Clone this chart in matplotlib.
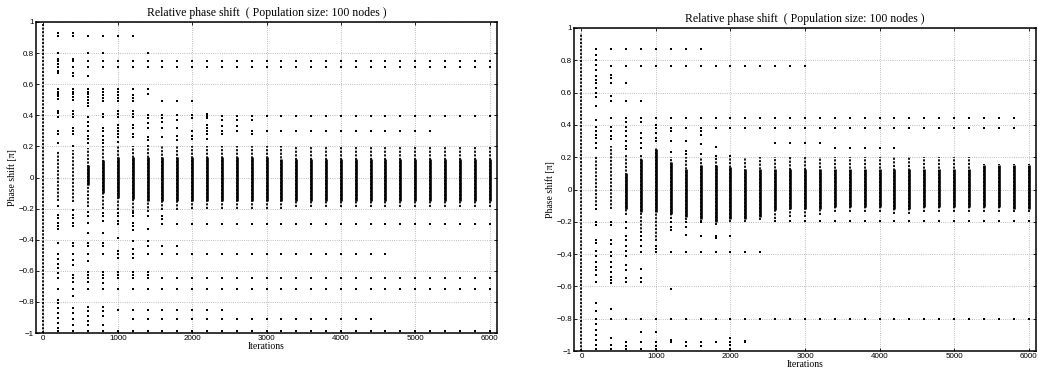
import numpy as np
import matplotlib
matplotlib.use("Agg")
import matplotlib.pyplot as plt

nan = np.nan

# --------------------------------------------------------------------------- #
# data (phase shift in units of pi)
# --------------------------------------------------------------------------- #
ITERATIONS = list(range(0, 6001, 200))          # 31 snapshot columns

X_TICKS = [0, 1000, 2000, 3000, 4000, 5000, 6000]
X_TICK_LABELS = ["0", "1000", "2000", "3000", "4000", "5000", "6000"]
Y_TICKS = [-1, -0.8, -0.6, -0.4, -0.2, 0, 0.2, 0.4, 0.6, 0.8, 1]
Y_TICK_LABELS = ["\u22121", "\u22120.8", "\u22120.6", "\u22120.4", "\u22120.2", "0",
                 "0.2", "0.4", "0.6", "0.8", "1"]

TITLE = "Relative phase shift  ( Population size: 100 nodes )"

# --- left panel ------------------------------------------------------------ #
# dense (solid-looking) part of every column
LEFT_CORE_HI = [nan, nan, nan, 0.08, 0.11, 0.13, 0.13, 0.13, 0.13, 0.13, 0.13,
                0.13, 0.13, 0.13, 0.13, 0.13, 0.12, 0.12, 0.12, 0.12, 0.12,
                0.12, 0.12, 0.12, 0.12, 0.12, 0.12, 0.12, 0.12, 0.12, 0.12]
LEFT_CORE_LO = [nan, nan, nan, -0.05, -0.10, -0.13, -0.14, -0.15, -0.15, -0.15,
                -0.15, -0.15, -0.15, -0.15, -0.15, -0.15, -0.15, -0.15, -0.15,
                -0.15, -0.15, -0.15, -0.15, -0.15, -0.15, -0.15, -0.15, -0.15,
                -0.15, -0.15, -0.15]
# dotted stack of nodes around the core
LEFT_TAIL_HI = [0.99, 0.17, 0.18, 0.19, 0.20, 0.20, 0.20, 0.21, 0.20, 0.20,
                0.20, 0.20, 0.20, 0.20, 0.20, 0.20, 0.20, 0.20, 0.20, 0.20,
                0.20, 0.20, 0.20, 0.20, 0.20, 0.20, 0.20, 0.20, 0.20, 0.20, 0.20]
LEFT_TAIL_LO = [-1.0, -0.15, -0.16, -0.19, -0.20, -0.21, -0.22, -0.22, -0.21,
                -0.21, -0.20, -0.20, -0.20, -0.20, -0.20, -0.20, -0.20, -0.19,
                -0.19, -0.19, -0.19, -0.19, -0.19, -0.19, -0.19, -0.19, -0.19,
                -0.19, -0.19, -0.19, -0.19]
# nodes that sit on the same phase over many snapshots
LEFT_ROW_VALUE = [0.747, 0.711, 0.907, 0.49, 0.394, 0.30, -0.296, -0.44,
                  -0.495, -0.645, -0.72, -0.853, -0.913, -0.99]
LEFT_ROW_FROM = [200, 200, 600, 1600, 2200, 2200, 1600, 1400,
                 800, 600, 200, 1200, 1200, 200]
LEFT_ROW_TO = [6000, 6000, 1200, 2000, 6000, 5200, 6000, 1800,
               4600, 6000, 6000, 2400, 4400, 6000]
# remaining single nodes of the early snapshots
LEFT_EXTRA = {
    200: [0.932, 0.911, 0.80, 0.761, 0.733, 0.686, 0.675, 0.568, 0.553, 0.54,
          0.525, 0.504, 0.429, 0.412, 0.386, 0.30, 0.279, 0.225, -0.184,
          -0.238, -0.259, -0.292, -0.313, -0.334, -0.42, -0.495, -0.527,
          -0.559, -0.58, -0.613, -0.645, -0.785, -0.81, -0.838, -0.87,
          -0.902, -0.935, -0.967],
    400: [0.932, 0.911, 0.761, 0.675, 0.65, 0.568, 0.55, 0.535, 0.52, 0.50,
          0.43, 0.41, 0.39, 0.32, 0.30, 0.28, 0.205, -0.21, -0.24, -0.26,
          -0.29, -0.31, -0.42, -0.44, -0.495, -0.53, -0.56, -0.625, -0.645,
          -0.67, -0.76, -0.84, -0.87, -0.91, -0.95],
    600: [0.907, 0.80, 0.65, 0.568, 0.55, 0.535, 0.52, 0.50, 0.48, 0.46,
          0.386, 0.36, 0.33, 0.30, 0.27, 0.25, 0.22, -0.22, -0.25, -0.29,
          -0.355, -0.42, -0.44, -0.495, -0.54, -0.61, -0.63, -0.67, -0.83,
          -0.86, -0.89, -0.92, -0.95],
    800: [0.907, 0.80, 0.568, 0.55, 0.53, 0.51, 0.49, 0.41, 0.39, 0.32, 0.30,
          0.27, 0.24, 0.22, -0.23, -0.25, -0.28, -0.355, -0.42, -0.44, -0.605,
          -0.625, -0.68, -0.83, -0.86, -0.89, -0.95],
    1000: [0.907, 0.568, 0.55, 0.53, 0.51, 0.49, 0.43, 0.41, 0.39, 0.34, 0.32,
           0.30, 0.28, 0.26, 0.23, -0.23, -0.25, -0.28, -0.30, -0.39, -0.47,
           -0.52, -0.605, -0.625, -0.85],
    1200: [0.568, 0.53, 0.51, 0.49, 0.43, 0.41, 0.39, 0.34, 0.32, 0.28, 0.26,
           -0.23, -0.25, -0.29, -0.31, -0.34, -0.41, -0.46, -0.52, -0.61,
           -0.625],
    1400: [0.80, 0.568, 0.54, 0.40, 0.38, 0.35, 0.32, 0.26, 0.24, -0.25,
           -0.33, -0.41, -0.61, -0.63],
    1600: [0.40, 0.38, 0.36, 0.32, 0.26, -0.25, -0.27],
    1800: [0.40, 0.37, 0.32, 0.27, 0.24],
    2000: [0.40, 0.38, 0.30, 0.27, 0.25],
    2200: [0.41, 0.38, 0.34, 0.32, 0.28, 0.25],
    2400: [0.37, 0.33, 0.28],
    2600: [0.37, 0.33],
    2800: [0.37, 0.28],
}

# --- right panel ----------------------------------------------------------- #
RIGHT_CORE_HI = [nan, nan, nan, 0.10, 0.19, 0.25, 0.17, 0.13, 0.15, 0.15, 0.14,
                 0.13, 0.13, 0.13, 0.13, 0.13, 0.13, 0.13, 0.13, 0.13, 0.13,
                 0.13, 0.13, 0.13, 0.13, 0.13, 0.13, 0.15, 0.15, 0.15, 0.15]
RIGHT_CORE_LO = [nan, nan, nan, -0.12, -0.14, -0.14, -0.15, -0.17, -0.18,
                 -0.20, -0.18, -0.18, -0.17, -0.13, -0.12, -0.12, -0.12, -0.11,
                 -0.11, -0.11, -0.11, -0.12, -0.12, -0.11, -0.11, -0.11, -0.11,
                 -0.11, -0.11, -0.12, -0.12]
RIGHT_TAIL_HI = [0.97, 0.21, 0.27, 0.22, 0.22, 0.26, 0.20, 0.20, 0.20, 0.20,
                 0.20, 0.20, 0.20, 0.20, 0.20, 0.20, 0.20, 0.20, 0.20, 0.20,
                 0.20, 0.20, 0.20, 0.20, 0.20, 0.20, 0.20, 0.16, 0.16, 0.16, 0.16]
RIGHT_TAIL_LO = [-1.0, -0.10, -0.12, -0.16, -0.27, -0.32, -0.18, -0.19, -0.20,
                 -0.22, -0.20, -0.20, -0.19, -0.18, -0.17, -0.17, -0.16, -0.14,
                 -0.14, -0.14, -0.14, -0.15, -0.15, -0.14, -0.14, -0.14, -0.14,
                 -0.14, -0.14, -0.14, -0.14]
RIGHT_ROW_VALUE = [0.868, 0.764, 0.442, 0.38, 0.29, 0.255, -0.192, -0.39,
                   -0.80, -0.945]
RIGHT_ROW_FROM = [600, 400, 400, 1000, 2600, 3400, 2600, 800, 600, 600]
RIGHT_ROW_TO = [1600, 3000, 5800, 5800, 3200, 4200, 6000, 2400, 6000, 2200]
RIGHT_EXTRA = {
    200: [0.87, 0.83, 0.80, 0.77, 0.74, 0.70, 0.68, 0.66, 0.63, 0.60, 0.57,
          0.515, 0.43, 0.39, 0.365, 0.34, 0.32, 0.29, 0.26, -0.12, -0.20,
          -0.22, -0.31, -0.33, -0.38, -0.41, -0.45, -0.48, -0.50, -0.53, -0.57,
          -0.70, -0.75, -0.80, -0.83, -0.87, -0.90, -0.93, -0.96, -0.99],
    400: [0.87, 0.71, 0.69, 0.66, 0.58, 0.55, 0.39, 0.36, 0.33, 0.31, -0.20,
          -0.22, -0.31, -0.34, -0.39, -0.41, -0.45, -0.48, -0.51, -0.54, -0.56,
          -0.58, -0.74, -0.80, -0.92, -0.96, -0.99],
    600: [0.66, 0.545, 0.42, 0.39, 0.36, 0.33, 0.30, 0.27, 0.25, -0.20, -0.24,
          -0.29, -0.31, -0.35, -0.38, -0.41, -0.47, -0.50, -0.55, -0.57,
          -0.97, -0.99],
    800: [0.545, 0.42, 0.35, 0.32, 0.29, 0.26, -0.29, -0.31, -0.35, -0.49,
          -0.55, -0.57, -0.88, -0.99],
    1000: [0.40, 0.35, 0.32, 0.30, -0.35, -0.37, -0.88, -0.97, -0.99],
    1200: [0.36, 0.30, 0.23, -0.20, -0.23, -0.25, -0.615, -0.93],
    1400: [0.30, 0.24, 0.22, -0.20, -0.23, -0.28, -0.97],
    1600: [0.36, 0.34, 0.28, 0.22, -0.20, -0.29, -0.97],
    1800: [0.265, 0.21, -0.29, -0.30],
    2000: [0.21, -0.29, -0.92, -0.96, -0.99],
    2200: [-0.94],
}


def _dots(extra, row_value, row_from, row_to):
    """Collect the isolated nodes of one panel as flat x / y arrays."""
    xs, ys = [], []
    for it, values in extra.items():
        xs += [it] * len(values)
        ys += values
    for v, a, b in zip(row_value, row_from, row_to):
        for it in ITERATIONS:
            if a <= it <= b:
                xs.append(it)
                ys.append(v)
    return np.array(xs), np.array(ys)


def _panel(ax, core_lo, core_hi, tail_lo, tail_hi, extra, rv, rf, rt):
    it = np.array(ITERATIONS)
    ax.vlines(it, tail_lo, tail_hi, colors="k", lw=1.3, linestyles=(0, (1.2, 0.8)),
              zorder=3)
    ax.vlines(it, core_lo, core_hi, colors="k", lw=1.9, zorder=3)
    xs, ys = _dots(extra, rv, rf, rt)
    ax.plot(xs, ys, "s", ms=1.6, mew=0, color="k", zorder=3)

    ax.set_xlim(-100, 6100)
    ax.set_ylim(-1, 1)
    ax.set_xticks(X_TICKS)
    ax.set_xticklabels(X_TICK_LABELS)
    ax.set_yticks(Y_TICKS)
    ax.set_yticklabels(Y_TICK_LABELS)
    ax.grid(True, ls=":", lw=0.6, color="#a8a8a8")
    ax.tick_params(direction="in", top=True, right=True, length=2.5, width=0.6,
                   labelsize=5.8, pad=1.5)
    for lab in ax.get_xticklabels() + ax.get_yticklabels():
        lab.set_fontfamily("Liberation Sans")
    for s in ax.spines.values():
        s.set_linewidth(1.1)
    ax.set_title(TITLE, fontsize=8.5, family="Liberation Serif", pad=4)
    ax.set_xlabel("Iterations", fontsize=7, family="Liberation Serif", labelpad=0)
    ax.set_ylabel("Phase shift [\u03c0]", fontsize=7, family="Liberation Serif",
                  labelpad=1)


fig = plt.figure(figsize=(10.38, 3.76), dpi=100)
ax1 = fig.add_axes([36 / 1038, 43 / 376, 461 / 1038, 311 / 376])
ax2 = fig.add_axes([574 / 1038, 25 / 376, 462 / 1038, 323 / 376])

_panel(ax1, LEFT_CORE_LO, LEFT_CORE_HI, LEFT_TAIL_LO, LEFT_TAIL_HI,
       LEFT_EXTRA, LEFT_ROW_VALUE, LEFT_ROW_FROM, LEFT_ROW_TO)
_panel(ax2, RIGHT_CORE_LO, RIGHT_CORE_HI, RIGHT_TAIL_LO, RIGHT_TAIL_HI,
       RIGHT_EXTRA, RIGHT_ROW_VALUE, RIGHT_ROW_FROM, RIGHT_ROW_TO)

fig.savefig("out.png", dpi=100)
